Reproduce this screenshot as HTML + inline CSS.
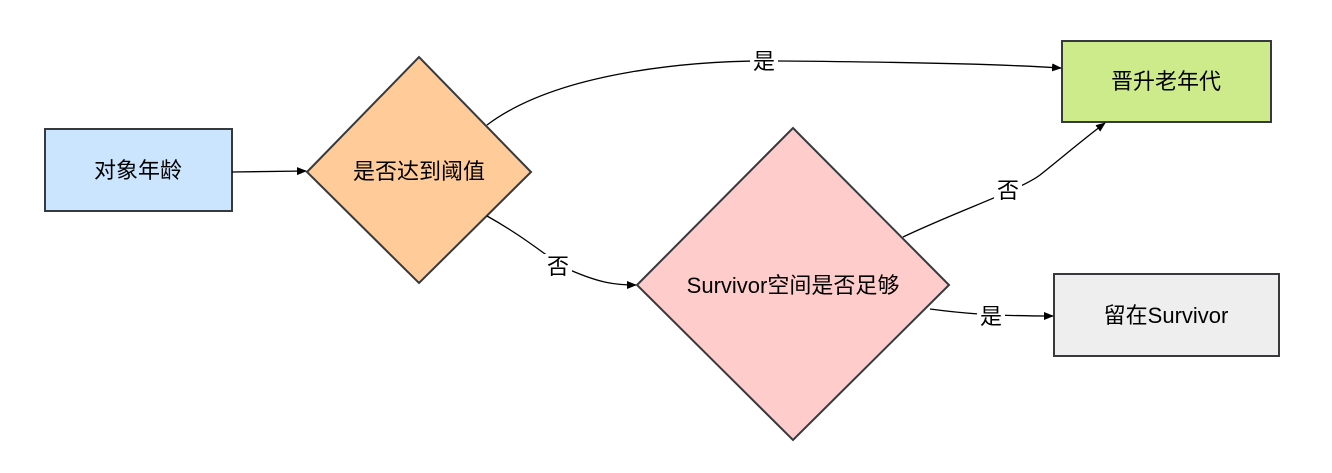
<!DOCTYPE html>
<html><head><meta charset="utf-8"><style>
html,body{margin:0;padding:0;background:#fff;}
svg text{font-family:"Liberation Sans","Noto Sans CJK SC",sans-serif;font-size:22px;fill:#000;}
</style></head><body>
<svg width="1332" height="468" viewBox="0 0 1332 468" xmlns="http://www.w3.org/2000/svg">
<defs><marker id="a" markerWidth="10" markerHeight="10" refX="9" refY="5" orient="auto" markerUnits="userSpaceOnUse"><path d="M0,1 L10,5 L0,9 Z" fill="#000"/></marker></defs>
<rect x="45" y="129" width="187" height="82" fill="#cce5ff" stroke="#36393d" stroke-width="2"/>
<text x="138" y="178" text-anchor="middle">对象年龄</text>
<polygon points="307,172 419,57 531,172 419,283" fill="#ffcc99" stroke="#36393d" stroke-width="2"/>
<text x="419" y="179" text-anchor="middle">是否达到阈值</text>
<polygon points="637,285 793,128 949,285 793,440" fill="#ffcccc" stroke="#36393d" stroke-width="2"/>
<text x="793" y="293" text-anchor="middle">Survivor空间是否足够</text>
<rect x="1062" y="41" width="209" height="81" fill="#cdeb8b" stroke="#36393d" stroke-width="2"/>
<text x="1166" y="89" text-anchor="middle">晋升老年代</text>
<rect x="1054" y="274" width="225" height="82" fill="#eeeeee" stroke="#36393d" stroke-width="2"/>
<text x="1166" y="323" text-anchor="middle">留在Survivor</text>
<g fill="none" stroke="#000" stroke-width="1.3">
<path d="M232,172 L306,171" marker-end="url(#a)"/>
<path d="M487,125 C560,70 700,60 780,61 C900,62 1000,64 1061,68" marker-end="url(#a)"/>
<path d="M487,216 C530,240 550,260 570,270 C600,283 615,285 636,285" marker-end="url(#a)"/>
<path d="M903,237 C960,210 1020,190 1040,175 C1065,155 1085,138 1105,123" marker-end="url(#a)"/>
<path d="M930,309 C960,313 990,316 1053,316" marker-end="url(#a)"/>
</g>
<rect x="750" y="49" width="28" height="26" fill="#fff"/><text x="764" y="69" text-anchor="middle">是</text>
<rect x="544" y="254" width="28" height="26" fill="#fff"/><text x="558" y="274" text-anchor="middle">否</text>
<rect x="994" y="178" width="28" height="26" fill="#fff"/><text x="1008" y="198" text-anchor="middle">否</text>
<rect x="977" y="304" width="28" height="26" fill="#fff"/><text x="991" y="324" text-anchor="middle">是</text>
</svg>
</body></html>
